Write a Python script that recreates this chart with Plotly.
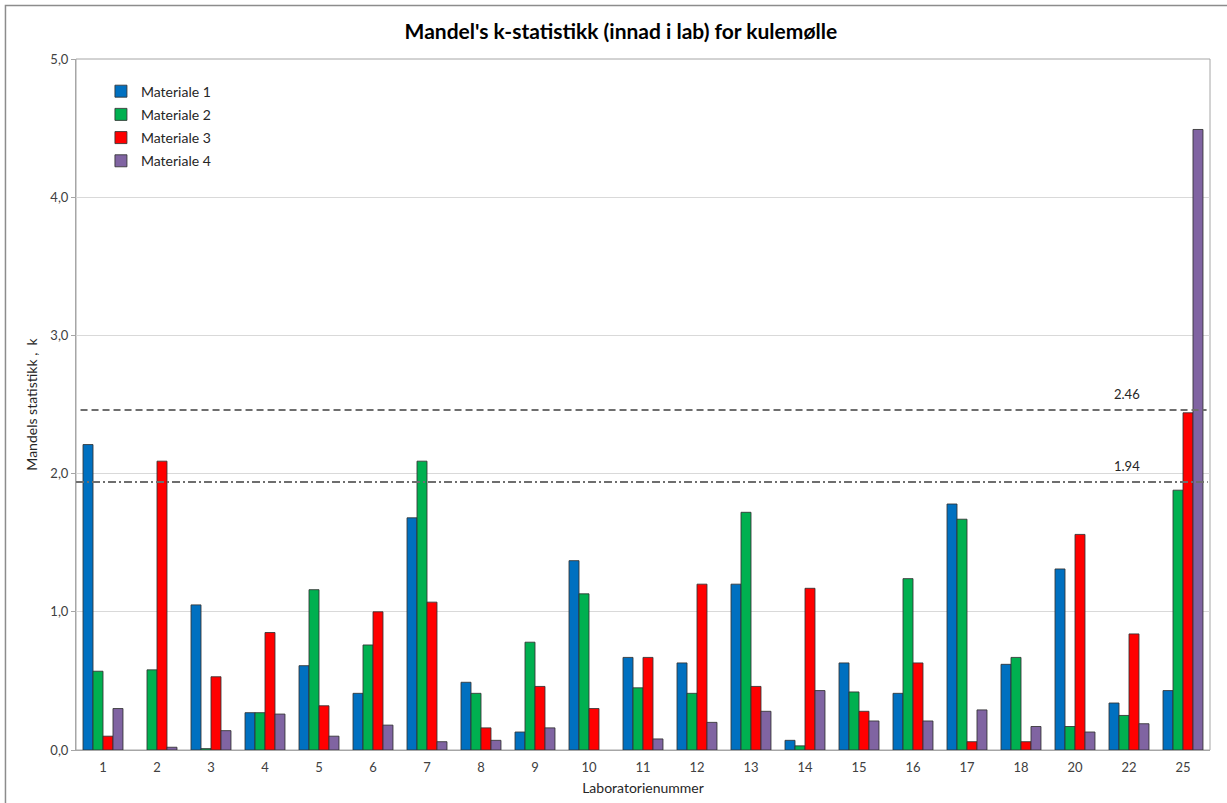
import plotly.graph_objects as go

# Laboratory numbers (category axis)
labs = ["1", "2", "3", "4", "5", "6", "7", "8", "9", "10", "11",
        "12", "13", "14", "15", "16", "17", "18", "20", "22", "25"]

# Mandel's k per material (None = no result reported)
materiale_1 = [2.21, None, 1.05, 0.27, 0.61, 0.41, 1.68, 0.49, 0.13, 1.37, 0.67,
               0.63, 1.20, 0.07, 0.63, 0.41, 1.78, 0.62, 1.31, 0.34, 0.43]
materiale_2 = [0.57, 0.58, 0.01, 0.27, 1.16, 0.76, 2.09, 0.41, 0.78, 1.13, 0.45,
               0.41, 1.72, 0.03, 0.42, 1.24, 1.67, 0.67, 0.17, 0.25, 1.88]
materiale_3 = [0.10, 2.09, 0.53, 0.85, 0.32, 1.00, 1.07, 0.16, 0.46, 0.30, 0.67,
               1.20, 0.46, 1.17, 0.28, 0.63, 0.06, 0.06, 1.56, 0.84, 2.44]
materiale_4 = [0.30, 0.02, 0.14, 0.26, 0.10, 0.18, 0.06, 0.07, 0.16, None, 0.08,
               0.20, 0.28, 0.43, 0.21, 0.21, 0.29, 0.17, 0.13, 0.19, 4.49]

series_names = ["Materiale 1", "Materiale 2", "Materiale 3", "Materiale 4"]
series_colors = ["#0070C0", "#00B050", "#FF0000", "#8064A2"]

# Critical k values (1 % and 5 % levels)
k_crit_1 = 2.46
k_crit_5 = 1.94

FONT = "Lato"
TEXT = "#404040"

fig = go.Figure()
for i, (name, vals, col) in enumerate(zip(series_names,
                                          [materiale_1, materiale_2, materiale_3, materiale_4],
                                          series_colors)):
    fig.add_trace(go.Bar(
        x=labs, y=vals, name=name, legendgroup=f"g{i}",
        marker=dict(color=col, line=dict(color="rgba(50,50,50,0.85)", width=1)),
    ))

# Critical value lines
fig.add_shape(type="line", xref="paper", yref="y", x0=0.004, x1=0.997,
              y0=k_crit_1, y1=k_crit_1, layer="above",
              line=dict(color="#6E6E6E", width=2, dash="7px,4px"))
fig.add_shape(type="line", xref="paper", yref="y", x0=0.0, x1=0.998,
              y0=k_crit_5, y1=k_crit_5, layer="above",
              line=dict(color="#6E6E6E", width=2, dash="8px,3px,2px,3px"))

for v in (k_crit_1, k_crit_5):
    fig.add_annotation(xref="paper", yref="y", x=0.94, y=v, yshift=16,
                       text=f"{v:.2f}", showarrow=False,
                       font=dict(family=FONT, size=13, color="#262626"))

# Plot-area frame and outer chart frame
fig.add_shape(type="rect", xref="paper", yref="paper", x0=0, x1=1, y0=0, y1=1,
              layer="below", line=dict(color="#A6A6A6", width=1))
fig.add_shape(type="rect", xref="paper", yref="paper", x0=-0.0622, x1=1.05,
              y0=-0.2, y1=1.0774, layer="below",
              line=dict(color="#8C8C8C", width=1.5))

fig.update_layout(
    width=1227, height=803,
    margin=dict(l=76, r=17, t=59, b=53, autoexpand=False),
    paper_bgcolor="white", plot_bgcolor="white",
    separators=", ",
    barmode="group", bargap=0.26, bargroupgap=0,
    title=dict(text="<b>Mandel's k-statistikk (innad i lab) for kulemølle</b>",
               x=0.506, xanchor="center", y=0.961, yanchor="middle",
               font=dict(family=FONT, size=21, color="#000000")),
    font=dict(family=FONT, size=13, color=TEXT),
    legend=dict(x=0.022, y=0.976, xanchor="left", yanchor="top",
                bgcolor="rgba(0,0,0,0)", traceorder="grouped",
                tracegroupgap=2, itemwidth=30,
                font=dict(family=FONT, size=14, color="#262626")),
    xaxis=dict(title=dict(text="Laboratorienummer", standoff=9,
                          font=dict(family=FONT, size=14, color="#262626")),
               automargin=False,
               showline=True, linecolor="#A6A6A6", linewidth=1,
               ticks="", ticklabelstandoff=5, tickfont=dict(size=13, color=TEXT)),
    yaxis=dict(title=dict(text="Mandels statistikk ,  k", standoff=9,
                          font=dict(family=FONT, size=14, color="#262626")),
               automargin=False,
               range=[0, 5], dtick=1, tickformat=".1f",
               showgrid=True, gridcolor="#D9D9D9", gridwidth=1,
               showline=True, linecolor="#A6A6A6", linewidth=1,
               ticks="outside", ticklen=4, tickcolor="#A6A6A6",
               zeroline=False, tickfont=dict(size=13, color=TEXT)),
)

fig.write_html("out.html")
